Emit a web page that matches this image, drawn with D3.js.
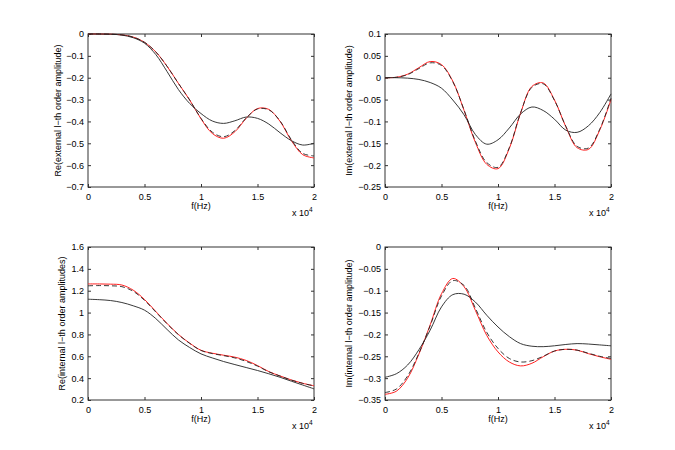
<!DOCTYPE html>
<html>
<head>
<meta charset="utf-8">
<script src="https://cdn.jsdelivr.net/npm/d3@7"></script>
<style>
  body { margin: 0; background: #fff; }
  svg { font-family: "Liberation Sans", Arial, sans-serif; }
  .tick text { font-size: 9px; fill: #000; }
  .lbl { font-size: 9px; fill: #000; }
</style>
</head>
<body>
<div id="chart"></div>
<script>
// frequency samples (Hz)
var freq = [0, 1000, 2000, 3000, 4000, 5000, 6000, 7000, 8000, 9000, 10000,
            11000, 12000, 13000, 14000, 15000, 16000, 17000, 18000, 19000, 20000];
var xTicks = [0, 5000, 10000, 15000, 20000];

// Re(external)
var reExtRed    = [0, 0, -0.001, -0.004, -0.014, -0.038, -0.082, -0.148, -0.226, -0.302, -0.388,
                   -0.455, -0.477, -0.447, -0.386, -0.341, -0.345, -0.400, -0.488, -0.552, -0.567];
var reExtDash   = [0, 0, -0.001, -0.004, -0.014, -0.038, -0.082, -0.148, -0.226, -0.302, -0.386,
                   -0.449, -0.470, -0.442, -0.384, -0.343, -0.347, -0.398, -0.484, -0.546, -0.558];
var reExtSolid  = [0, 0, -0.001, -0.005, -0.017, -0.042, -0.094, -0.172, -0.254, -0.318, -0.364,
                   -0.398, -0.409, -0.397, -0.380, -0.386, -0.412, -0.452, -0.488, -0.508, -0.500];
var reExtTicks  = [0, -0.1, -0.2, -0.3, -0.4, -0.5, -0.6, -0.7];

// Im(external)
var imExtRed    = [0, 0.001, 0.008, 0.023, 0.037, 0.030, -0.008, -0.075, -0.148, -0.198, -0.208,
                   -0.162, -0.081, -0.020, -0.012, -0.051, -0.112, -0.160, -0.164, -0.120, -0.050];
var imExtDash   = [0, 0.001, 0.007, 0.021, 0.034, 0.028, -0.009, -0.074, -0.145, -0.194, -0.205,
                   -0.160, -0.080, -0.022, -0.014, -0.052, -0.111, -0.157, -0.161, -0.118, -0.047];
var imExtSolid  = [0, 0, -0.001, -0.004, -0.011, -0.024, -0.051, -0.085, -0.130, -0.152, -0.142,
                   -0.115, -0.083, -0.067, -0.075, -0.095, -0.120, -0.125, -0.110, -0.080, -0.037];
var imExtTicks  = [0.1, 0.05, 0, -0.05, -0.1, -0.15, -0.2, -0.25];

// Re(internal)
var reIntRed    = [1.262, 1.262, 1.260, 1.252, 1.205, 1.120, 1.010, 0.900, 0.800, 0.720, 0.655,
                   0.628, 0.610, 0.592, 0.562, 0.515, 0.460, 0.420, 0.383, 0.353, 0.330];
var reIntDash   = [1.245, 1.247, 1.245, 1.237, 1.195, 1.112, 1.005, 0.897, 0.798, 0.718, 0.653,
                   0.625, 0.606, 0.585, 0.553, 0.510, 0.458, 0.419, 0.382, 0.352, 0.329];
var reIntSolid  = [1.122, 1.118, 1.110, 1.092, 1.062, 1.022, 0.945, 0.845, 0.750, 0.680, 0.622,
                   0.585, 0.552, 0.524, 0.497, 0.470, 0.440, 0.408, 0.372, 0.337, 0.302];
var reIntTicks  = [0.2, 0.4, 0.6, 0.8, 1, 1.2, 1.4, 1.6];

// Im(internal)
var imIntRed    = [-0.337, -0.330, -0.300, -0.245, -0.178, -0.107, -0.072, -0.091, -0.145, -0.202, -0.240,
                   -0.263, -0.272, -0.266, -0.251, -0.238, -0.234, -0.236, -0.244, -0.251, -0.257];
var imIntDash   = [-0.333, -0.325, -0.295, -0.243, -0.180, -0.112, -0.077, -0.088, -0.140, -0.195, -0.232,
                   -0.255, -0.263, -0.260, -0.250, -0.238, -0.234, -0.236, -0.243, -0.250, -0.255];
var imIntSolid  = [-0.298, -0.290, -0.270, -0.235, -0.190, -0.137, -0.109, -0.108, -0.126, -0.156, -0.183,
                   -0.205, -0.221, -0.227, -0.228, -0.226, -0.223, -0.221, -0.222, -0.224, -0.226];
var imIntTicks  = [0, -0.05, -0.1, -0.15, -0.2, -0.25, -0.3, -0.35];

var W = 675, H = 450;

var panels = [
    {x: 88, y: 34, red: reExtRed, dash: reExtDash, solid: reExtSolid, ticks: reExtTicks,
     label: "Re(external l\u2212th order amplitude)", labelX: 58},
    {x: 385, y: 34, red: imExtRed, dash: imExtDash, solid: imExtSolid, ticks: imExtTicks,
     label: "Im(external l\u2212th order amplitude)", labelX: 349},
    {x: 88, y: 247, red: reIntRed, dash: reIntDash, solid: reIntSolid, ticks: reIntTicks,
     label: "Re(internal l\u2212th order amplitudes)", labelX: 62},
    {x: 385, y: 247, red: imIntRed, dash: imIntDash, solid: imIntSolid, ticks: imIntTicks,
     label: "Im(internal l\u2212th order amplitude)", labelX: 349}
];
var pw = 226, ph = 153;

var svg = d3.select("#chart").append("svg")
    .attr("width", W)
    .attr("height", H);

panels.forEach(function(p){
    var g = svg.append("g").attr("transform", "translate(" + p.x + "," + p.y + ")");

    var xScale = d3.scaleLinear().domain([0, 20000]).range([0, pw]);
    var yScale = d3.scaleLinear().domain(d3.extent(p.ticks)).range([ph, 0]);

    var fmt = d3.format("~g");

    // axes with inward ticks, box all round
    var bottom = g.append("g").attr("transform", "translate(0," + ph + ")")
        .call(d3.axisBottom(xScale).tickValues(xTicks).tickSizeInner(-3).tickSizeOuter(0)
            .tickPadding(7).tickFormat(function(d){ return fmt(d / 1e4); }));
    var top = g.append("g")
        .call(d3.axisTop(xScale).tickValues(xTicks).tickSizeInner(-3).tickSizeOuter(0).tickFormat(""));
    var left = g.append("g")
        .call(d3.axisLeft(yScale).tickValues(p.ticks).tickSizeInner(-3).tickSizeOuter(0)
            .tickPadding(4).tickFormat(fmt));
    var right = g.append("g").attr("transform", "translate(" + pw + ",0)")
        .call(d3.axisRight(yScale).tickValues(p.ticks).tickSizeInner(-3).tickSizeOuter(0).tickFormat(""));
    [bottom, top, left, right].forEach(function(a){
        a.select(".domain").remove();
        a.selectAll(".tick line").attr("stroke", "#333");
    });

    g.append("rect")
        .attr("width", pw).attr("height", ph)
        .attr("fill", "none").attr("stroke", "#333").attr("stroke-width", 1);

    var line = function(vals){
        return d3.line()
            .x(function(d, i){ return xScale(freq[i]); })
            .y(function(d){ return yScale(d); })
            .curve(d3.curveCatmullRom.alpha(0.5))(vals);
    };

    g.append("path").attr("d", line(p.red))
        .attr("fill", "none").attr("stroke", "#ff2020").attr("stroke-width", 1);
    g.append("path").attr("d", line(p.dash))
        .attr("fill", "none").attr("stroke", "#222").attr("stroke-width", 0.9)
        .attr("stroke-dasharray", "5,3");
    g.append("path").attr("d", line(p.solid))
        .attr("fill", "none").attr("stroke", "#222").attr("stroke-width", 0.9);

    // labels
    g.append("text").attr("class", "lbl")
        .attr("x", pw / 2).attr("y", ph + 22)
        .attr("text-anchor", "middle")
        .text("f(Hz)");
    var ex = g.append("text").attr("class", "lbl")
        .attr("x", pw - 22).attr("y", ph + 29);
    ex.append("tspan").text("x 10");
    ex.append("tspan").attr("dy", -4).style("font-size", "6.5px").text("4");

    svg.append("text").attr("class", "lbl")
        .attr("transform", "translate(" + (p.labelX + 3) + "," + (p.y + ph / 2) + ") rotate(-90)")
        .attr("text-anchor", "middle")
        .text(p.label);
});
</script>
</body>
</html>
